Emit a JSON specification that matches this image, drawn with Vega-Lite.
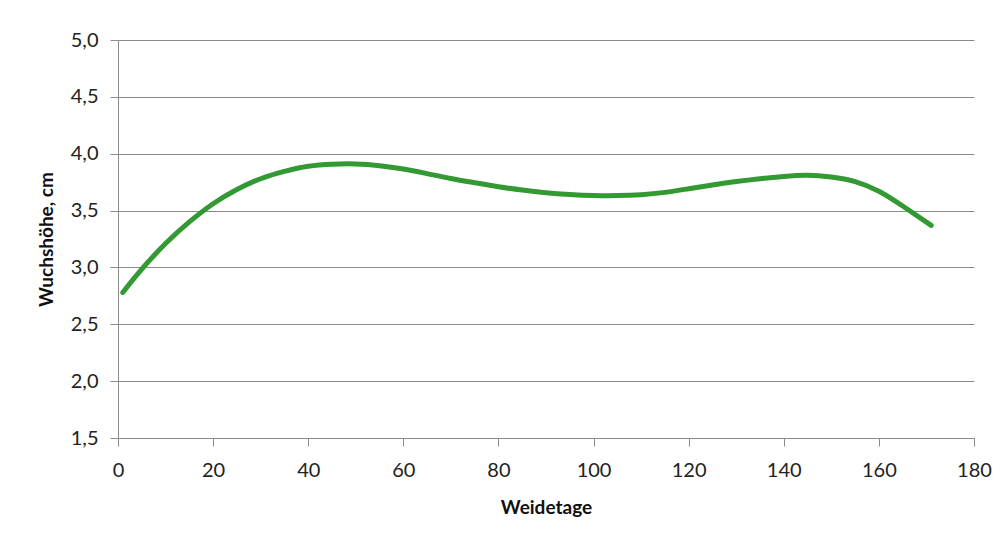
{
  "$schema": "https://vega.github.io/schema/vega-lite/v6.json",
  "autosize": {"type": "none"},
  "width": 856,
  "height": 398,
  "padding": {"left": 118, "top": 40, "right": 29, "bottom": 110},
  "background": "white",
  "config": {
    "view": {"stroke": null},
    "axis": {
      "labelFont": "Lato",
      "labelFontSize": 20,
      "labelColor": "#222222",
      "titleFont": "Lato",
      "titleFontSize": 19,
      "titleFontWeight": "bold",
      "titleColor": "#111111",
      "domainColor": "#8c8c8c",
      "tickColor": "#8c8c8c",
      "gridColor": "#8c8c8c",
      "tickSize": 8
    }
  },
  "data": {
    "values": [
      {"tag": 1, "h": 2.78},
      {"tag": 5, "h": 2.985},
      {"tag": 10, "h": 3.21},
      {"tag": 15, "h": 3.40},
      {"tag": 20, "h": 3.56},
      {"tag": 25, "h": 3.685},
      {"tag": 30, "h": 3.78},
      {"tag": 35, "h": 3.845},
      {"tag": 40, "h": 3.89},
      {"tag": 45, "h": 3.908},
      {"tag": 50, "h": 3.91},
      {"tag": 55, "h": 3.895},
      {"tag": 60, "h": 3.865},
      {"tag": 65, "h": 3.825},
      {"tag": 70, "h": 3.782},
      {"tag": 75, "h": 3.745},
      {"tag": 80, "h": 3.71},
      {"tag": 85, "h": 3.68},
      {"tag": 90, "h": 3.657},
      {"tag": 95, "h": 3.642},
      {"tag": 100, "h": 3.633},
      {"tag": 105, "h": 3.632},
      {"tag": 110, "h": 3.64},
      {"tag": 115, "h": 3.66},
      {"tag": 120, "h": 3.692},
      {"tag": 125, "h": 3.725},
      {"tag": 130, "h": 3.755},
      {"tag": 135, "h": 3.78},
      {"tag": 140, "h": 3.80},
      {"tag": 145, "h": 3.81},
      {"tag": 150, "h": 3.795},
      {"tag": 155, "h": 3.755},
      {"tag": 160, "h": 3.67},
      {"tag": 165, "h": 3.54},
      {"tag": 171, "h": 3.37}
    ]
  },
  "mark": {"type": "line", "color": "#339933", "strokeWidth": 5, "strokeCap": "round", "interpolate": "natural"},
  "encoding": {
    "x": {
      "field": "tag",
      "type": "quantitative",
      "title": "Weidetage",
      "scale": {"domain": [0, 180], "nice": false},
      "axis": {"values": [0, 20, 40, 60, 80, 100, 120, 140, 160, 180], "grid": false, "labelPadding": 14, "titlePadding": 18, "labelFlush": false}
    },
    "y": {
      "field": "h",
      "type": "quantitative",
      "title": "Wuchshöhe, cm",
      "scale": {"domain": [1.5, 5.0], "nice": false, "zero": false},
      "axis": {
        "values": [1.5, 2.0, 2.5, 3.0, 3.5, 4.0, 4.5, 5.0],
        "grid": true,
        "labelPadding": 12,
        "labelExpr": "replace(format(datum.value, '.1f'), '.', ',')",
        "titlePadding": 14,
        "labelFlush": false
      }
    }
  }
}
